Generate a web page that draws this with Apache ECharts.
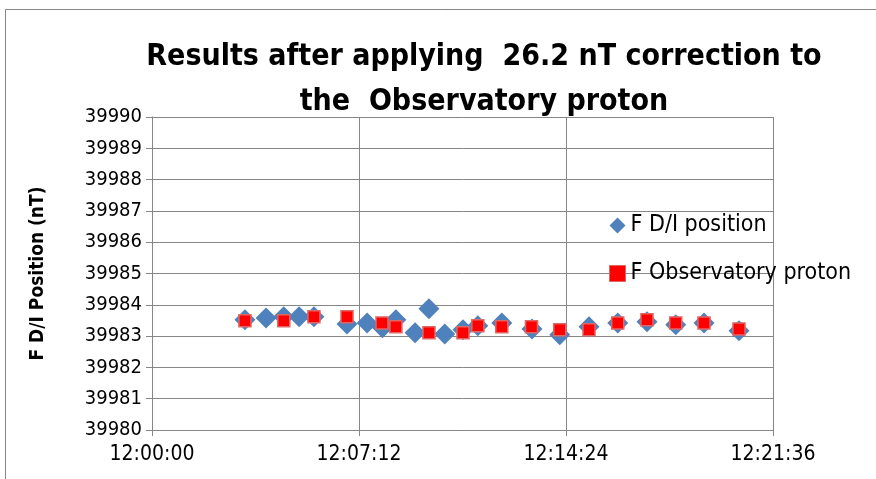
<!DOCTYPE html>
<html>
<head>
<meta charset="utf-8">
<script src="https://cdn.jsdelivr.net/npm/echarts@6/dist/echarts.min.js"></script>
<style>
  html, body { margin: 0; padding: 0; background: #fff; }
  #chart { width: 876px; height: 479px; }
</style>
</head>
<body>
<div id="chart"></div>
<script>
// readings (clock time, nT)
var diTimes = ['12:03:14', '12:03:58', '12:04:35', '12:05:07', '12:05:38', '12:06:47', '12:07:29', '12:08:01',
  '12:08:29', '12:09:09', '12:09:38', '12:10:11', '12:10:49', '12:11:20', '12:12:10', '12:13:13', '12:14:11',
  '12:15:12', '12:16:12', '12:17:13', '12:18:13', '12:19:12', '12:20:25'];
var diValues = [39983.52, 39983.58, 39983.62, 39983.62, 39983.62, 39983.39, 39983.42, 39983.27,
  39983.52, 39983.11, 39983.87, 39983.07, 39983.2, 39983.33, 39983.42, 39983.23, 39983.04,
  39983.3, 39983.42, 39983.46, 39983.36, 39983.42, 39983.17];

var obsTimes = ['12:03:14', '12:04:35', '12:05:38', '12:06:47', '12:08:00', '12:08:29', '12:09:38', '12:10:49',
  '12:11:20', '12:12:10', '12:13:12', '12:14:11', '12:15:12', '12:16:12', '12:17:13', '12:18:13', '12:19:12', '12:20:25'];
var obsValues = [39983.49, 39983.49, 39983.62, 39983.62, 39983.42, 39983.3, 39983.11, 39983.11,
  39983.33, 39983.3, 39983.3, 39983.2, 39983.2, 39983.42, 39983.52, 39983.42, 39983.42, 39983.23];

var xTicks = ['12:00:00', '12:07:12', '12:14:24', '12:21:36'];

// seconds since 12:00:00
function toSec(s) {
  var p = s.split(':');
  return (+p[0] - 12) * 3600 + (+p[1]) * 60 + (+p[2]);
}
function toClock(v) {
  var h = 12 + Math.floor(v / 3600);
  var m = Math.floor((v % 3600) / 60);
  var s = Math.round(v % 60);
  var pad = function (n) { return (n < 10 ? '0' : '') + n; };
  return h + ':' + pad(m) + ':' + pad(s);
}
function pairs(ts, vs) {
  return ts.map(function (t, i) { return [toSec(t), vs[i]]; });
}

var font = '"Liberation Sans Narrow", "DejaVu Sans Condensed", "Liberation Sans", sans-serif';
var gridColor = '#868686';

var chart = echarts.init(document.getElementById('chart'));
chart.setOption({
  animation: false,
  textStyle: { fontFamily: font },
  title: {
    text: 'Results after applying  26.2 nT correction to\nthe  Observatory proton',
    left: 479,
    top: 30,
    textAlign: 'center',
    textStyle: {
      fontFamily: font,
      fontSize: 30,
      fontWeight: 'bold',
      color: '#000',
      lineHeight: 45
    }
  },
  graphic: [{
    type: 'rect',
    shape: { x: 5.5, y: 9.5, width: 1000, height: 600 },
    style: { fill: 'none', stroke: gridColor, lineWidth: 1 },
    silent: true,
    z: -1
  }],
  legend: {
    orient: 'vertical',
    left: 604,
    top: 209,
    itemGap: 25,
    itemWidth: 16,
    itemHeight: 16,
    textStyle: { fontFamily: font, fontSize: 23, color: '#000' },
    data: [
      { name: 'F D/I position', icon: 'diamond' },
      { name: 'F Observatory proton', icon: 'rect', itemStyle: { borderColor: '#e06666', borderWidth: 1 } }
    ]
  },
  grid: { left: 152, right: 103, top: 117, bottom: 49 },
  xAxis: {
    type: 'value',
    min: toSec(xTicks[0]),
    max: toSec(xTicks[xTicks.length - 1]),
    interval: toSec(xTicks[1]) - toSec(xTicks[0]),
    axisLine: { show: true, lineStyle: { color: gridColor } },
    axisTick: { show: true, length: 6, lineStyle: { color: gridColor } },
    axisLabel: {
      formatter: function (v) { return toClock(v); },
      fontFamily: font, fontSize: 21, color: '#000', margin: 14
    },
    splitLine: { show: true, lineStyle: { color: gridColor } }
  },
  yAxis: {
    type: 'value',
    min: 39980,
    max: 39990,
    interval: 1,
    name: 'F D/I Position (nT)',
    nameLocation: 'middle',
    nameGap: 104,
    nameTextStyle: { fontFamily: font, fontSize: 19, fontWeight: 'bold', color: '#000' },
    axisLine: { show: true, lineStyle: { color: gridColor } },
    axisTick: { show: true, length: 6, lineStyle: { color: gridColor } },
    axisLabel: {
      formatter: function (v) { return String(v); },
      fontFamily: font, fontSize: 20, color: '#000', margin: 10
    },
    splitLine: { show: true, lineStyle: { color: gridColor } }
  },
  series: [
    {
      name: 'F D/I position',
      type: 'scatter',
      symbol: 'diamond',
      symbolSize: 21,
      itemStyle: { color: '#4f81bd', opacity: 1 },
      data: pairs(diTimes, diValues),
      z: 2
    },
    {
      name: 'F Observatory proton',
      type: 'scatter',
      symbol: 'rect',
      symbolSize: 12,
      itemStyle: { color: '#ff0000', borderColor: '#e06666', borderWidth: 1.5, opacity: 1 },
      data: pairs(obsTimes, obsValues),
      z: 3
    }
  ]
});
window.addEventListener('resize', function () { chart.resize(); });
</script>
</body>
</html>
